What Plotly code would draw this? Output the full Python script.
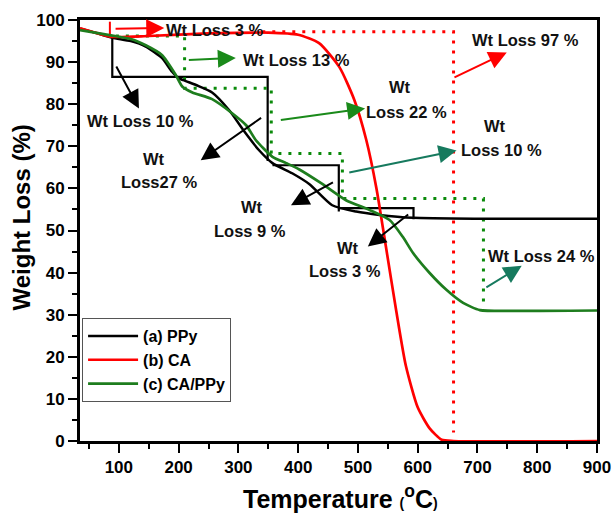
import plotly.graph_objects as go

# ---------------- data ----------------
ppy_T = [35, 60, 89, 120, 145, 172, 189, 200, 212, 230, 256, 285, 310, 335, 357, 390, 419, 457, 497, 536, 592, 700, 800, 900]
ppy_W = [98, 97, 95.8, 95, 93.7, 91, 87.7, 86.2, 85.5, 84.5, 82.8, 78.5, 73.5, 69, 66, 63.6, 61, 56, 54.5, 53.7, 53, 52.8, 52.8, 52.8]

ca_T = [35, 60, 89, 150, 250, 350, 400, 435, 469, 494, 514, 531, 547, 564, 580, 600, 620, 640, 660, 900]
ca_W = [98, 97, 96, 96.2, 96.8, 97, 96.5, 94.5, 88.8, 81, 71.5, 60, 46, 31, 18, 8, 3, 0.3, 0, 0]

capy_T = [35, 60, 89, 120, 145, 172, 195, 206, 223, 256, 290, 313, 329, 357, 380, 402, 441, 480, 519, 553, 575, 592, 620, 648, 676, 704, 760, 900]
capy_W = [97.6, 97, 96.3, 95.5, 94, 91.7, 87, 84.2, 82.8, 81.2, 77.8, 75, 71.5, 67.5, 66, 64.5, 61, 57.2, 54.9, 52.5, 48.5, 44.7, 39.9, 35.9, 32.8, 31.1, 30.9, 31]

# step (weight-loss) guide lines
ppy_step_T = [89, 89, 349, 349, None, 357, 468, 468, None, 468, 593, 593]
ppy_step_W = [95.8, 86.5, 86.5, 66.5, None, 65.5, 65.5, 54.5, None, 55.3, 55.3, 52.7]

ca_step_T = [340, 660, 660]
ca_step_W = [97.2, 97.2, 2]
ca_tick_T = [85, 85]
ca_tick_W = [96, 99.6]

capy_step_T = [95, 210, 210, 355, 355, 474, 474, 710, 710]
capy_step_W = [96.2, 96.2, 83.8, 83.8, 68.3, 68.3, 57.6, 57.6, 32]

# arrows: tail T, tail W, head T, head W, colour key
arrow_tailT = [92, 214.6, 94.4, 340.5, 368.5, 659, 483, 460.7, 586.6, 712.4]
arrow_tailW = [97.9, 90.5, 89.3, 77, 76.2, 86.2, 63.7, 61.6, 54.1, 36.3]
arrow_headT = [176, 295.7, 133.6, 237, 512, 749, 665, 388, 516.6, 774]
arrow_headW = [98.1, 91, 79, 66.7, 79, 92.3, 69, 56, 46.2, 41.6]
arrow_col = ["red", "green", "black", "black", "green", "red", "teal", "black", "black", "teal"]

# labels: T, W, text, anchor
label_T = [175.5, 304, 44, 158.7, 167.7, 570, 581, 687, 729, 740, 322, 319.5, 483, 479, 714]
label_W = [97.6, 90.6, 76.1, 67.1, 61.6, 84, 78.2, 95.2, 74.8, 69.1, 55.7, 50, 45.8, 40.5, 43.9]
label_txt = ["Wt Loss 3 %", "Wt Loss 13 %", "Wt Loss 10 %", "Wt", "Loss27 %", "Wt", "Loss 22 %",
             "Wt Loss 97 %", "Wt", "Loss 10 %", "Wt", "Loss 9 %", "Wt", "Loss 3 %", "Wt Loss 24 %"]
label_anchor = ["left", "left", "left", "center", "center", "center", "center",
                "left", "center", "center", "center", "center", "center", "center", "left"]

series_names = ["(a) PPy", "(b) CA", "(c) CA/PPy"]
x_title = "Temperature <span style='font-size:14px'>(</span><sup>o</sup>C<span style='font-size:14px'>)</span>"
y_title = "Weight Loss (%)"

# ---------------- style ----------------
FONT = "Liberation Sans, Arial, sans-serif"
BLACK = "#000000"
RED = "#ff0000"
GREEN = "#1e7d1e"
DOTGREEN = "#0a8a0a"
TEAL = "#167a5e"
colmap = {"red": RED, "green": "#1a8a1a", "black": BLACK, "teal": TEAL}
DOTS = "3px,7px"

fig = go.Figure()

fig.add_trace(go.Scatter(x=ppy_step_T, y=ppy_step_W, mode="lines", line=dict(color=BLACK, width=2.2),
                         showlegend=False, hoverinfo="skip", connectgaps=False))
fig.add_trace(go.Scatter(x=ca_step_T, y=ca_step_W, mode="lines", line=dict(color=RED, width=3, dash=DOTS),
                         showlegend=False, hoverinfo="skip"))
fig.add_trace(go.Scatter(x=ca_tick_T, y=ca_tick_W, mode="lines", line=dict(color=RED, width=2),
                         showlegend=False, hoverinfo="skip"))
fig.add_trace(go.Scatter(x=capy_step_T, y=capy_step_W, mode="lines", line=dict(color=DOTGREEN, width=3, dash=DOTS),
                         showlegend=False, hoverinfo="skip"))

fig.add_trace(go.Scatter(x=ppy_T, y=ppy_W, mode="lines", name=series_names[0],
                         line=dict(color=BLACK, width=2.5, shape="spline", smoothing=0.6)))
fig.add_trace(go.Scatter(x=ca_T, y=ca_W, mode="lines", name=series_names[1],
                         line=dict(color=RED, width=2.7, shape="spline", smoothing=0.6)))
fig.add_trace(go.Scatter(x=capy_T, y=capy_W, mode="lines", name=series_names[2],
                         line=dict(color=GREEN, width=2.7, shape="spline", smoothing=0.6)))

annotations = []
for tT, tW, hT, hW, c in zip(arrow_tailT, arrow_tailW, arrow_headT, arrow_headW, arrow_col):
    annotations.append(dict(x=hT, y=hW, ax=tT, ay=tW, xref="x", yref="y", axref="x", ayref="y",
                            text="", showarrow=True, arrowhead=2, arrowsize=1.8, arrowwidth=2,
                            arrowcolor=colmap[c], standoff=0, startstandoff=0))
for T, W, txt, anc in zip(label_T, label_W, label_txt, label_anchor):
    annotations.append(dict(x=T, y=W, xref="x", yref="y", text=txt, showarrow=False,
                            xanchor=anc, yanchor="middle",
                            font=dict(family=FONT, size=16.5, color="#111111", weight="bold")))
annotations.append(dict(x=0.503, y=-0.133, xref="paper", yref="paper", text=x_title, showarrow=False,
                        xanchor="center", yanchor="middle",
                        font=dict(family=FONT, size=25, color=BLACK, weight="bold")))
annotations.append(dict(x=-0.113, y=0.53, xref="paper", yref="paper", text=y_title, showarrow=False,
                        textangle=-90, xanchor="center", yanchor="middle",
                        font=dict(family=FONT, size=24, color=BLACK, weight="bold")))

fig.update_layout(
    width=615, height=514,
    margin=dict(l=80, r=18, t=20, b=73),
    paper_bgcolor="white", plot_bgcolor="white",
    font=dict(family=FONT, color=BLACK),
    annotations=annotations,
    legend=dict(x=0.004, y=0.292, xanchor="left", yanchor="top",
                bgcolor="white", bordercolor="#555555", borderwidth=1,
                font=dict(family=FONT, size=16, color=BLACK, weight="bold"),
                tracegroupgap=0, itemwidth=50),
    xaxis=dict(range=[35, 900], tick0=0, dtick=100, ticks="outside", ticklen=9, tickwidth=2,
               tickcolor=BLACK, showline=True, linewidth=3, linecolor=BLACK, mirror=True,
               showgrid=False, zeroline=False, automargin=False,
               tickfont=dict(family=FONT, size=17, color=BLACK, weight="bold"),
               minor=dict(dtick=50, tick0=0, ticks="outside", ticklen=5, tickwidth=2, tickcolor=BLACK)),
    yaxis=dict(range=[0, 100], tick0=0, dtick=10, ticks="outside", ticklen=9, tickwidth=2,
               tickcolor=BLACK, showline=True, linewidth=3, linecolor=BLACK, mirror=True,
               showgrid=False, zeroline=False, automargin=False,
               tickfont=dict(family=FONT, size=17, color=BLACK, weight="bold"),
               minor=dict(dtick=5, tick0=0, ticks="outside", ticklen=5, tickwidth=2, tickcolor=BLACK)),
)

fig.write_html("out.html")
